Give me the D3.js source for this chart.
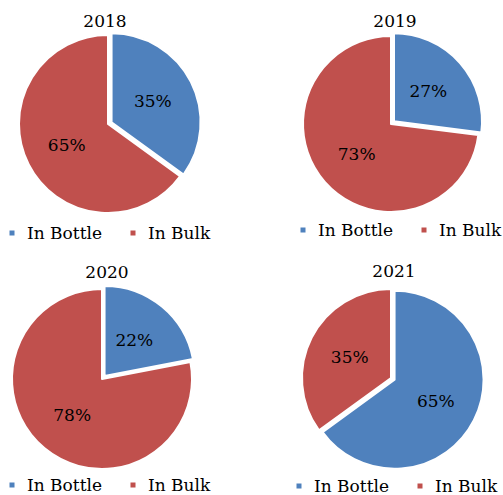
<!DOCTYPE html>
<html>
<head>
<meta charset="utf-8">
<script src="https://cdn.jsdelivr.net/npm/d3@7"></script>
<style>
  body { margin: 0; background: #fff; }
  text { font-family: "DejaVu Serif", serif; font-size: 17px; fill: #000; }
</style>
</head>
<body>
<div id="chart"></div>
<script>
const YEARS = ["2018", "2019", "2020", "2021"];
const CATEGORIES = ["In Bottle", "In Bulk"];
const IN_BOTTLE = [35, 27, 22, 65];
const IN_BULK = [65, 73, 78, 35];

const blue = "#4F81BD";
const red = "#C0504D";

const width = 503,
  height = 495,
  explode = 4;

// where each panel sits: pie centre and radius, title baseline, legend baseline
const panels = [
  { cx: 108, cy: 124, r: 89, titleX: 105, titleY: 27, legX: 12, legY: 239 },
  { cx: 391, cy: 124, r: 88, titleX: 395, titleY: 27, legX: 303, legY: 236 },
  { cx: 102, cy: 379, r: 90, titleX: 107, titleY: 278, legX: 12, legY: 491 },
  { cx: 391, cy: 378, r: 89, titleX: 394, titleY: 277, legX: 299, legY: 492 },
];

const color = d3.scaleOrdinal().domain(CATEGORIES).range([blue, red]);

const svg = d3
  .select("#chart")
  .append("svg")
  .attr("width", width)
  .attr("height", height);

const pie = d3
  .pie()
  .sort(null)
  .value((d) => d.value);

YEARS.forEach((year, i) => {
  const p = panels[i];
  const arc = d3.arc().innerRadius(0).outerRadius(p.r);
  const labelArc = d3
    .arc()
    .innerRadius(p.r * 0.52)
    .outerRadius(p.r * 0.52);

  const slices = pie([
    { key: CATEGORIES[0], value: IN_BOTTLE[i] },
    { key: CATEGORIES[1], value: IN_BULK[i] },
  ]);

  const g = svg.append("g");

  g.append("text")
    .attr("x", p.titleX)
    .attr("y", p.titleY)
    .attr("text-anchor", "middle")
    .text(year);

  const pieGroup = g
    .append("g")
    .attr("transform", `translate(${p.cx}, ${p.cy})`);

  // bottle slice is pulled out a little, like the original
  const offset = (d) => {
    if (d.data.key !== CATEGORIES[0]) return [0, 0];
    const mid = (d.startAngle + d.endAngle) / 2;
    return [Math.sin(mid) * explode, -Math.cos(mid) * explode];
  };

  const sliceG = pieGroup
    .selectAll(".slice")
    .data(slices)
    .join("g")
    .attr("class", "slice")
    .attr("transform", (d) => `translate(${offset(d)})`);

  sliceG
    .append("path")
    .attr("d", arc)
    .attr("fill", (d) => color(d.data.key))
    .attr("stroke", "#fff")
    .attr("stroke-width", 2)
    .attr("stroke-linejoin", "round");

  sliceG
    .append("text")
    .attr("transform", (d) => `translate(${labelArc.centroid(d)})`)
    .attr("text-anchor", "middle")
    .attr("dy", "0.36em")
    .text((d) => d.data.value + "%");

  // legend
  const legend = g
    .append("g")
    .attr("transform", `translate(${p.legX}, ${p.legY})`);

  const item = legend
    .selectAll(".item")
    .data(CATEGORIES)
    .join("g")
    .attr("class", "item")
    .attr("transform", (d, j) => `translate(${j * 121}, 0)`);

  item
    .append("rect")
    .attr("x", -2.5)
    .attr("y", -8.5)
    .attr("width", 5)
    .attr("height", 5)
    .attr("fill", color);

  item
    .append("text")
    .attr("x", 15)
    .attr("y", 0)
    .text((d) => d);
});
</script>
</body>
</html>
